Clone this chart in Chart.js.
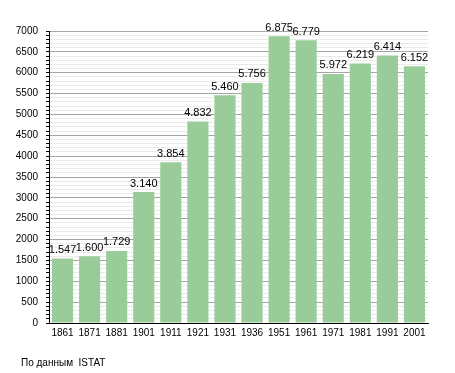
<!DOCTYPE html>
<html>
<head>
<meta charset="utf-8">
<script src="https://cdn.jsdelivr.net/npm/chart.js@4"></script>
<style>
  body { margin: 0; background: #fff; }
  #chart { display: block; }
</style>
</head>
<body>
<canvas id="chart" width="455" height="373"></canvas>
<script>
    const years = ['1861', '1871', '1881', '1901', '1911', '1921', '1931', '1936', '1951', '1961', '1971', '1981', '1991', '2001'];
    const population = [1547, 1600, 1729, 3140, 3854, 4832, 5460, 5756, 6875, 6779, 5972, 6219, 6414, 6152];
    const sourceNote = 'По данным  ISTAT';

    const FONT = 'Liberation Sans, Arial, sans-serif';

    function formatValue(v) {
      const s = String(v);
      return s.length > 3 ? s.slice(0, -3) + '.' + s.slice(-3) : s;
    }

    // numbers above bars
    const barLabels = {
      id: 'barLabels',
      afterDatasetsDraw(chart) {
        const ctx = chart.ctx;
        const meta = chart.getDatasetMeta(0);
        ctx.save();
        ctx.font = '11px ' + FONT;
        ctx.fillStyle = '#000';
        ctx.textAlign = 'center';
        ctx.textBaseline = 'bottom';
        meta.data.forEach((bar, i) => {
          ctx.fillText(formatValue(population[i]), bar.x, bar.y - 3);
        });
        ctx.restore();
      }
    };

    // source caption under the chart
    const caption = {
      id: 'caption',
      afterDraw(chart) {
        const ctx = chart.ctx;
        ctx.save();
        ctx.font = '10px ' + FONT;
        ctx.fillStyle = '#000';
        ctx.textAlign = 'left';
        ctx.textBaseline = 'middle';
        ctx.fillText(sourceNote, 21, 363);
        ctx.restore();
      }
    };

    const ctx = document.getElementById('chart').getContext('2d');

    new Chart(ctx, {
      type: 'bar',
      data: {
        labels: years,
        datasets: [{
          data: population,
          backgroundColor: 'rgb(153,204,153)',
          borderWidth: 0,
          barPercentage: 0.78,
          categoryPercentage: 1
        }]
      },
      options: {
        responsive: false,
        animation: false,
        layout: { padding: { top: 31, right: 27, bottom: 30, left: 0 } },
        plugins: {
          legend: { display: false },
          tooltip: { enabled: false }
        },
        scales: {
          x: {
            grid: { display: false, drawTicks: false },
            border: { color: '#000', width: 1 },
            ticks: {
              color: '#000',
              font: { family: FONT, size: 10 },
              padding: 4,
              autoSkip: false,
              maxRotation: 0
            },
            afterFit(scale) { scale.height = 20; }
          },
          y: {
            min: 0,
            max: 7000,
            grid: {
              color: c => (c.tick && c.tick.value % 500 === 0) ? 'rgb(165,165,165)' : 'rgb(234,234,234)',
              tickColor: '#000',
              tickLength: 3
            },
            border: { color: '#000', width: 1 },
            ticks: {
              stepSize: 100,
              autoSkip: false,
              color: '#000',
              font: { family: FONT, size: 10 },
              padding: 8,
              callback: v => (v % 500 === 0 ? String(v) : '')
            },
            afterFit(scale) { scale.width = 49; }
          }
        }
      },
      plugins: [barLabels, caption]
    });
</script>
</body>
</html>
